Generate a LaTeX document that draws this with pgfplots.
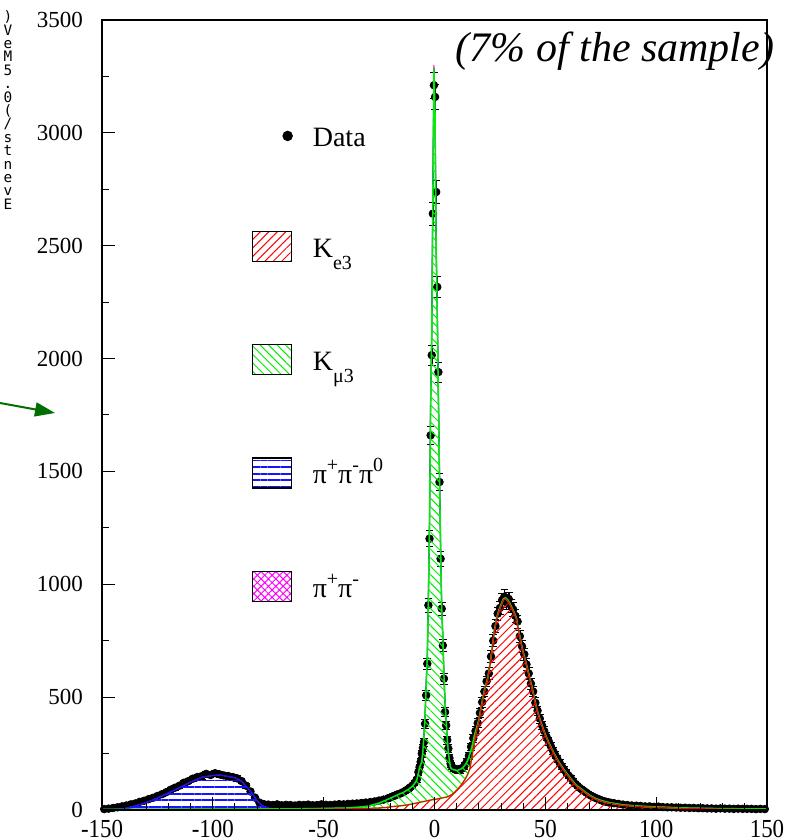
\documentclass[border=0pt]{standalone}
\usepackage{pgfplots}
\pgfplotsset{compat=1.18}
\usepackage{pgfplotstable}
\usepackage{graphicx}
\usepackage{fontspec}
\setmainfont{Liberation Serif}
\newfontfamily\monofont{DejaVu Sans Mono}
\usetikzlibrary{patterns,patterns.meta,arrows.meta}
\definecolor{arrowgreen}{RGB}{0,110,0}
\definecolor{hgreen}{RGB}{0,240,0}
\definecolor{hblue}{RGB}{20,20,255}
\newcommand\xtl[1]{\scalebox{0.88}[1]{#1}}

\pgfplotstableread{
x ke3 kmu ppp pp
-150 2 1 0 0
-145 2 1 0 0
-140 2 1 3 0
-135 2 1 15 0
-130 2 1 30 0
-125 2 1 50 0
-120 2 2 72 0
-115 2 2 95 0
-110 2 2 120 0
-105 3 2 140 0
-100 3 2 148 0
-97 3 2 150 0
-95 3 2 147 0
-90 3 2 138 0
-87 3 2 122 0
-85 3 2 100 0
-82 3 2 66 0
-80 3 2 36 0
-78 3 2 16 0
-75 3 2 3 0
-72 3 2 0 0
-65 3 2 0 0
-60 3 3 0 0
-50 4 3 0 0
-40 5 4 0 0
-35 6 6 0 0
-30 7 10 0 0
-25 9 22 0 0
-22 11 32 0 0
-20 14 38 0 0
-18 16 45 0 0
-16 18 52 0 0
-14 20 58 0 0
-12 23 67 0 0
-10 27 78 0 0
-9 29 88 0 0
-8 31 102 0 0
-7.25 33 130 0 0
-6.75 34 156 0 0
-6.25 35 165 0 0
-5.75 36 179 0 0
-5.25 37 223 0 0
-4.75 38 294 0 0
-4.25 39 381 0 0
-3.75 40 520 0 0
-3.25 41 639 0 0
-2.75 42 908 0 0
-2.25 43 1233 0 0
-1.75 44 1760 0 6
-1.25 45 2058 0 7
-0.75 46 2669 0 10
-0.25 46 3239 0 15
0.25 47 3043 0 10
0.75 48 2442 0 10
1.25 49 2163 0 8
1.75 50 1784 0 6
2.25 51 1444 0 5
2.75 52 1119 0 4
3.25 53 844 0 3
3.75 54 718 0 3
4.25 55 542 0 3
4.75 56 422 0 2
5.25 57 341 0 2
5.75 58 260 0 2
6.25 60 195 0 2
6.75 62 156 0 2
7.25 65 123 0 2
8 70 110 0 0
9 78 100 0 0
10 88 87 0 0
11 98 80 0 0
12 110 72 0 0
13 124 66 0 0
14 140 62 0 0
15 158 62 0 0
16 185 65 0 0
17 240 45 0 0
18 305 25 0 0
19 355 10 0 0
20 395 5 0 0
21 450 5 0 0
22 503 5 0 0
23 545 5 0 0
24 581 4 0 0
25 641 4 0 0
26 711 4 0 0
27 791 4 0 0
28 846 4 0 0
29 881 4 0 0
30 906 4 0 0
31 931 4 0 0
32 936 4 0 0
33 928 4 0 0
34 911 4 0 0
35 891 4 0 0
36 871 4 0 0
37 846 4 0 0
38 791 4 0 0
39 741 4 0 0
40 696 4 0 0
41 661 4 0 0
42 621 4 0 0
43 581 4 0 0
44 541 4 0 0
45 496 4 0 0
46 452 3 0 0
47 417 3 0 0
48 387 3 0 0
49 359 3 0 0
50 332 3 0 0
52 287 3 0 0
54 247 3 0 0
56 212 3 0 0
58 182 3 0 0
60 155 3 0 0
62 130 3 0 0
64 107 3 0 0
66 92 3 0 0
68 77 3 0 0
70 63 3 0 0
72.5 49 3 0 0
75 40 3 0 0
77.5 33 3 0 0
80 28 3 0 0
85 21 2 0 0
90 17 2 0 0
95 14 2 0 0
100 12 2 0 0
105 10 2 0 0
110 8 2 0 0
115 7 2 0 0
120 6 2 0 0
125 5 2 0 0
130 4 2 0 0
135 4 2 0 0
140 3 2 0 0
145 3 2 0 0
150 3 2 0 0
}\mc

\pgfplotstableread{
x y
-149 4
-147 6
-145 9
-143 12
-141 16
-139 20
-137 25
-135 29
-133 36
-131 41
-129 48
-127 54
-125 62
-123 70
-121 79
-119 90
-117 99
-115 108
-113 121
-111 128
-109 139
-107 146
-105 150
-103 160
-101 155
-99 163
-97 158
-95 153
-93 150
-91 146
-89 140
-87 128
-85 108
-83 82
-81 55
-79 33
-77 26
-75 24
-73 22
-71 25
-69 21
-67 23
-65 22
-63 20
-61 23
-59 22
-57 24
-55 21
-53 22
-51 25
-49 23
-47 22
-45 24
-43 26
-41 25
-39 27
-37 28
-35 29
-33 31
-31 33
-29 35
-27 38
-25 42
-23 46
-21 52
-20 55
-19 60
-18 63
-17 68
-16 71
-15 75
-14 80
-13 86
-12 92
-11 100
-10 108
-9 120
-8 135
-7.25 168
-6.75 190
-6.25 213
-5.75 250
-5.25 275
-4.75 301
-4.25 382
-3.75 508
-3.25 648
-2.75 907
-2.25 1202
-1.75 1660
-1.25 2015
-0.75 2642
-0.25 3211
0.25 3159
0.75 2738
1.25 2317
1.75 1940
2.25 1453
2.75 1113
3.25 892
3.75 729
4.25 582
4.75 434
5.25 375
5.75 310
6.25 272
6.75 230
7.25 205
7.75 195
8.5 185
9.5 178
10.5 180
11.5 176
12.5 186
13.5 195
14.5 213
15.5 240
16.5 280
17.5 318
18.5 350
19.5 385
20.5 430
21.5 478
22.5 525
23.5 570
24.5 605
25.5 680
26.5 750
27.5 815
28.5 870
29.5 895
30.5 930
31.5 945
32.5 920
33.5 935
34.5 905
35.5 888
36.5 860
37.5 835
38.5 770
39.5 725
40.5 690
41.5 645
42.5 605
43.5 560
44.5 525
45.5 475
46.5 440
47.5 405
48.5 375
49.5 350
50.5 325
51.5 305
52.5 282
53.5 262
54.5 242
55.5 225
56.5 208
57.5 192
58.5 178
59.5 165
60.5 152
61.5 142
62.5 128
63.5 116
64.5 107
65.5 98
66.5 91
67.5 84
68.5 77
69.5 70
70.5 64
71.5 59
72.5 54
73.5 50
74.5 46
75.5 42
76.5 39
77.5 36
78.5 34
79.5 32
81 30
83 27
85 24
87 22
89 20
91 19
93 18
95 16
97 16
99 14
101 15
103 13
105 12
107 12
109 11
111 10
113 10
115 9
117 9
119 8
121 8
123 7
125 7
127 6
129 7
131 6
133 6
135 5
137 6
139 5
141 5
143 5
145 4
147 5
149 4
}\data

\begin{document}
\begin{tikzpicture}
\begin{axis}[
  scale only axis, width=332.5pt, height=395pt,
  xmin=-150, xmax=150, ymin=0, ymax=3500,
  axis on top, clip mode=individual,
  axis line style={line width=0.7pt},
  tick align=inside, xtick pos=bottom, ytick pos=left,
  xtick={-150,-100,-50,0,50,100,150},
  xticklabels={\xtl{-150},\xtl{-100},\xtl{-50},\xtl{0},\xtl{50},\xtl{100},\xtl{150}},
  minor x tick num=4,
  ytick={0,500,1000,1500,2000,2500,3000,3500},
  yticklabels={0,500,1000,1500,2000,2500,3000,3500},
  minor y tick num=1,
  major tick length=6.5pt, minor tick length=3.5pt,
  tick style={black, line width=0.5pt},
  xticklabel style={font=\fontsize{13}{13}\selectfont, yshift=-1.5pt},
  yticklabel style={font=\fontsize{11.5}{11.5}\selectfont, xshift=-6pt},
  stack plots=y,
  legend cell align=left,
  legend style={draw=none, fill=none, anchor=north west,
    at={(axis description cs:0.2256,0.8697)},
    inner sep=0pt, outer sep=0pt, row sep=41pt,
    font=\fontsize{14}{14}\selectfont,
    nodes={inner sep=0pt, text height=12pt, text depth=1pt},
    /tikz/every odd column/.append style={column sep=10pt}},
]
\addlegendimage{legend image code/.code={\fill[black] (17.5pt,0pt) circle (2.4pt);}}
\addlegendentry{Data}
\addlegendimage{legend image code/.code={\draw[pattern={Lines[angle=45,distance=3pt,line width=0.5pt]},pattern color=red,draw=black,line width=0.6pt] (0pt,-7.5pt) rectangle (19.5pt,7.5pt);}}
\addlegendentry{K\raisebox{-6pt}{\fontsize{10}{10}\selectfont e3}}
\addlegendimage{legend image code/.code={\draw[pattern={Lines[angle=-45,distance=3pt,line width=0.5pt]},pattern color=hgreen,draw=black,line width=0.6pt] (0pt,-7.5pt) rectangle (19.5pt,7.5pt);}}
\addlegendentry{K\raisebox{-6pt}{\fontsize{10}{10}\selectfont μ3}}
\addlegendimage{legend image code/.code={\draw[pattern={Lines[angle=0,distance=3.3pt,line width=0.9pt,yshift=1.6pt]},pattern color=hblue,draw=black,line width=0.6pt] (0pt,-7.5pt) rectangle (19.5pt,7.5pt);}}
\addlegendentry{π\raisebox{6pt}{\fontsize{10}{10}\selectfont +}π\raisebox{6pt}{\fontsize{10}{10}\selectfont -}π\raisebox{6pt}{\fontsize{10}{10}\selectfont 0}}
\addlegendimage{legend image code/.code={\draw[pattern={Hatch[angle=45,distance=2.6pt,line width=0.5pt]},pattern color=magenta,draw=black,line width=0.6pt] (0pt,-7.5pt) rectangle (19.5pt,7.5pt);}}
\addlegendentry{π\raisebox{6pt}{\fontsize{10}{10}\selectfont +}π\raisebox{6pt}{\fontsize{10}{10}\selectfont -}}

\addplot[draw=red, line width=0.5pt, pattern={Lines[angle=45,distance=3pt,line width=0.5pt]}, pattern color=red, forget plot]
  table[x=x, y=ke3] {\mc} \closedcycle;
\addplot[draw=hgreen, line width=0.7pt, pattern={Lines[angle=-45,distance=3pt,line width=0.5pt]}, pattern color=hgreen, forget plot]
  table[x=x, y=kmu] {\mc} \closedcycle;
\addplot[draw=hblue, line width=0.6pt, pattern={Lines[angle=0,distance=3.3pt,line width=0.9pt]}, pattern color=hblue, forget plot]
  table[x=x, y=ppp] {\mc} \closedcycle;
\addplot[draw=magenta, line width=0.5pt, pattern={Hatch[angle=45,distance=2.6pt,line width=0.5pt]}, pattern color=magenta, forget plot]
  table[x=x, y=pp] {\mc} \closedcycle;

\addplot[stack plots=false, only marks, mark=*, mark size=1.9pt, black, forget plot,
  error bars/.cd, y dir=both, y explicit, error bar style={black, line width=0.8pt}]
  table[x=x, y=y, y error expr={sqrt(\thisrow{y})}] {\data};

\node[font=\fontsize{21}{21}\selectfont\itshape] at (rel axis cs:0.7714,0.961) {(7\% of the sample)};
\end{axis}
\node[font=\monofont\fontsize{7.2}{6.7}\selectfont, align=center, inner sep=0pt] at (-47pt,350pt)
  {)\\V\\e\\M\\5\\.\\0\\(\\/\\s\\t\\n\\e\\v\\E};
\draw[-{Triangle[length=10pt,width=7pt]}, line width=1pt, arrowgreen] (-51pt,203.5pt) -- (-23.5pt,198.5pt);
\pgfresetboundingbox
\path[use as bounding box] (-51pt,-15pt) rectangle (347pt,405pt);
\end{tikzpicture}
\end{document}
